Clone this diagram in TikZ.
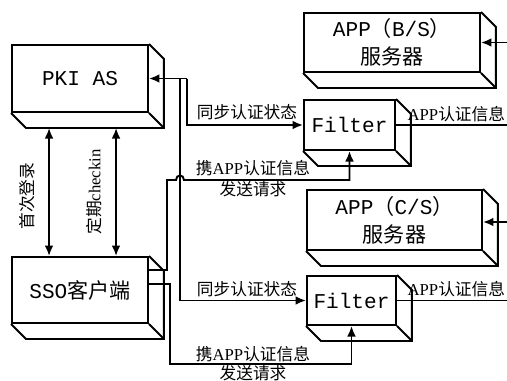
\documentclass[tikz,border=0pt]{standalone}
\usepackage{fontspec}
\setmainfont{Liberation Serif}
\setmonofont{Liberation Mono}
\newfontfamily\cjk{Noto Sans CJK SC}
\usetikzlibrary{arrows.meta, calc}

% side and bottom faces of a box node
\newcommand{\boxside}[1]{%
  \draw (#1.north east) -- ++(15,15) |- ($(#1.south west)+(15,15)$) -- (#1.south west);
  \draw (#1.south east) -- ++(15,15);}

\begin{document}
\begin{tikzpicture}[
	x=0.02cm, y=-0.02cm, line width=1.1pt,
	box/.style={draw, inner sep=0, align=center, font=\fontsize{12}{16}\selectfont},
	lbl/.style={inner sep=1pt, font=\fontsize{9.5}{11}\selectfont},
	>={Latex[length=6pt,width=5pt]}
	]
	\useasboundingbox (0,0) rectangle (507,380);

	\node[box, minimum width=2.72cm, minimum height=1.34cm] (pki) at (80,78.5) {\ttfamily PKI AS};
	\node[box, minimum width=2.72cm, minimum height=1.32cm] (sso) at (80,290) {{\ttfamily SSO}{\cjk 客户端}};
	\node[box, minimum width=3.52cm, minimum height=1.18cm] (appbs) at (392,42.5)
	{{\ttfamily APP}{\cjk （}{\ttfamily B/S}{\cjk ）}\\{\cjk 服务器}};
	\node[box, minimum width=1.82cm, minimum height=1cm] (filt1) at (349.5,125) {\ttfamily Filter};
	\node[box, minimum width=3.5cm, minimum height=1.2cm] (appcs) at (394.5,220)
	{{\ttfamily APP}{\cjk （}{\ttfamily C/S}{\cjk ）}\\{\cjk 服务器}};
	\node[box, minimum width=1.78cm, minimum height=0.98cm] (filt2) at (351.5,300.5) {\ttfamily Filter};
	\boxside{pki}
	\boxside{sso}
	\boxside{appbs}
	\boxside{filt1}
	\boxside{appcs}
	\boxside{filt2}

	% PKI AS <-> SSO
	\draw[<->] ($(pki.south west)+(38,15)$) -- ($(sso.north west)+(38,0)$);
	\draw[<->] ($(pki.south west)+(105,15)$) -- ($(sso.north west)+(105,0)$);
	\node[lbl, rotate=90] (first) at (27,196) {\cjk 首次登录};
	\node[lbl, rotate=90] (check) at (94,192) {{\cjk 定期}checkin};

	% sync state
	\coordinate (s1) at (187,78.5);
	\coordinate (s2) at (180,78.5);
	\draw[->] (s1) -- (pki.east);
	\draw[->] (s1) |- (filt1.west);
	\draw[->] (s2) |- (filt2.west);
	\node[lbl] (sync1) at (247,112) {\cjk 同步认证状态};
	\node[lbl] (sync2) at (247,289) {\cjk 同步认证状态};

	% requests from SSO
	\coordinate (o1) at (148,270);
	\coordinate (o2) at (148,284);
	\draw[->] (o1) -- (167,270) -- (167,180) -- (176,180)
		.. controls (176,174) and (184,174) .. (184,180) -| (filt1.south);
	\draw[->] (o2) -- (170,284) |- (256,364) -| (filt2.south);
	\node[lbl] (req1a) at (253,168) {{\cjk 携}APP{\cjk 认证信息}};
	\node[lbl] (req1b) at (253,189) {\cjk 发送请求};
	\node[lbl] (req2a) at (253,354) {{\cjk 携}APP{\cjk 认证信息}};
	\node[lbl] (req2b) at (253,373) {\cjk 发送请求};

	% right edge
	\coordinate (r1) at (507,42.5);
	\coordinate (r2) at (507,125);
	\coordinate (r3) at (507,222);
	\coordinate (r4) at (507,300.5);
	\draw[->] (r1) -- (appbs.east);
	\draw (filt1.east) -- (r2);
	\draw[->] (r3) -- (appcs.east |- r3);
	\draw (filt2.east) -- (r4);
	\node[lbl, anchor=east, inner sep=0pt] (info1) at (506,114) {APP{\cjk 认证信息}};
	\node[lbl, anchor=east, inner sep=0pt] (info2) at (506,289) {APP{\cjk 认证信息}};
\end{tikzpicture}
\end{document}
